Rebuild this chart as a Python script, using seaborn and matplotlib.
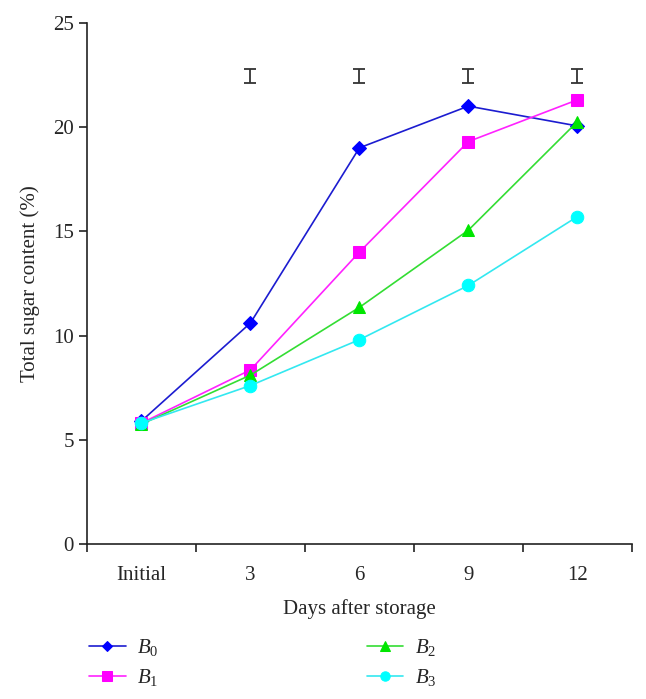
import numpy as np
import pandas as pd
import matplotlib
matplotlib.use('Agg')
import matplotlib.pyplot as plt
import seaborn as sns

# podaci
days = ['Initial', '3', '6', '9', '12']
b0 = [5.9, 10.6, 19.0, 21.0, 20.05]
b1 = [5.8, 8.35, 14.0, 19.3, 21.3]
b2 = [5.75, 8.1, 11.35, 15.05, 20.25]
b3 = [5.8, 7.6, 9.8, 12.4, 15.7]

series_names = ['$B_0$', '$B_1$', '$B_2$', '$B_3$']
series_vals = [b0, b1, b2, b3]
colors = ['#0000ff', '#ff00ff', '#00e600', '#00ffff']
line_colors = ['#1c1cd0', '#ff22ff', '#33dd33', '#33e8f0']
markers = ['D', 's', '^', 'o']
msizes = [7, 9, 9, 9]

# LSD bars
lsd_days = ['3', '6', '9', '12']
lsd_center = [22.45, 22.45, 22.45, 22.45]
lsd_half = [0.35, 0.35, 0.35, 0.35]

sns.set_style('ticks')
plt.rcParams['font.family'] = ['Liberation Serif', 'DejaVu Serif']
plt.rcParams['mathtext.fontset'] = 'custom'
plt.rcParams['mathtext.rm'] = 'Liberation Serif'
plt.rcParams['mathtext.it'] = 'Liberation Serif:italic'

fs = 15

fig = plt.figure(figsize=(6.46, 6.99), dpi=100)
ax = fig.add_axes([0.1347, 0.2217, 0.978 - 0.1347, 0.9675 - 0.2217])

x = np.arange(len(days))
for name, vals, c, lc, m, ms in zip(series_names, series_vals, colors, line_colors, markers, msizes):
    df = pd.DataFrame({'x': x, 'y': vals})
    sns.lineplot(data=df, x='x', y='y', ax=ax, color=lc, linewidth=1.2,
                 marker=m, markersize=ms, markerfacecolor=c, markeredgecolor=c,
                 label=name)

lx = [days.index(d) for d in lsd_days]
ax.errorbar(lx, lsd_center, yerr=lsd_half, fmt='none', ecolor='#333333',
            elinewidth=1.3, capsize=4.5, capthick=1.3)

ax.set_xlim(-0.5, 4.5)
ax.set_ylim(0, 25)
ax.set_yticks([0, 5, 10, 15, 20, 25])
ax.set_xticks(np.arange(-0.5, 5, 1))
ax.set_xticklabels([])
ax.set_xticks(x, minor=True)
ax.set_xticklabels(days, minor=True)
ax.tick_params(axis='x', which='minor', length=0, pad=16)
ax.tick_params(axis='both', which='major', length=6, width=1.2, color='#222222', labelsize=fs)
ax.tick_params(axis='x', which='minor', labelsize=fs)

for s in ['top', 'right']:
    ax.spines[s].set_visible(False)
for s in ['left', 'bottom']:
    ax.spines[s].set_linewidth(1.2)
    ax.spines[s].set_color('#222222')

ax.set_xlabel('Days after storage', fontsize=fs, labelpad=10)
ax.set_ylabel('Total sugar content (%)', fontsize=fs, labelpad=9)

handles, labels = ax.get_legend_handles_labels()
ax.get_legend().remove()
fig.legend(handles, labels, loc='upper left', bbox_to_anchor=(0.138, 0.088),
           ncol=2, frameon=False, fontsize=fs, columnspacing=10.0,
           handlelength=1.75, handletextpad=0.55, labelspacing=0.4,
           borderpad=0, borderaxespad=0, markerscale=0.75)

plt.savefig('out.png', dpi=100)
